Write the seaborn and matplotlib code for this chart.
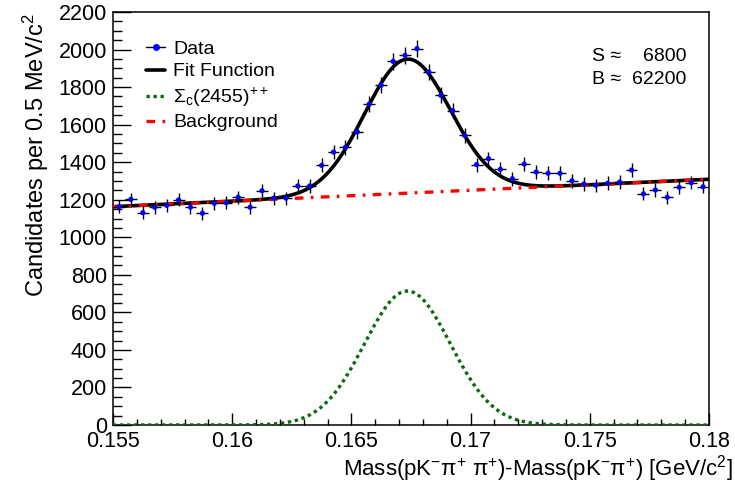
import numpy as np
import pandas as pd
import seaborn as sns
import matplotlib
matplotlib.use("Agg")
from matplotlib import pyplot as plt
from matplotlib.lines import Line2D
from matplotlib.ticker import MultipleLocator, FuncFormatter

# histogram: 50 bins of 0.5 MeV between 0.155 and 0.18 GeV
x_lo, x_hi, n_bins = 0.155, 0.18, 50
counts = [1163, 1202, 1131, 1160, 1170, 1199, 1160, 1128, 1181, 1184,
          1213, 1160, 1248, 1209, 1209, 1273, 1273, 1383, 1454, 1479,
          1561, 1710, 1810, 1937, 1969, 2005, 1880, 1756, 1674, 1543,
          1387, 1419, 1362, 1312, 1390, 1348, 1341, 1341, 1301, 1284,
          1277, 1288, 1294, 1358, 1231, 1252, 1213, 1266, 1291, 1269]

# fit results
sig_mean = 0.16735
sig_sigma = 0.0018
sig_height = 714
bkg_lo = 1163   # background at x_lo
bkg_hi = 1309   # background at x_hi

n_sig, n_bkg = "6800", "62200"

half_bin = (x_hi - x_lo) / n_bins / 2
centres = np.linspace(x_lo + half_bin, x_hi - half_bin, n_bins)
data = pd.DataFrame({"x": centres, "y": counts})
data["err"] = np.sqrt(data["y"])

xf = np.linspace(x_lo, x_hi, 500)
bkg = bkg_lo + (bkg_hi - bkg_lo) * (xf - x_lo) / (x_hi - x_lo)
sig = sig_height * np.exp(-0.5 * ((xf - sig_mean) / sig_sigma) ** 2)
curves = pd.DataFrame({"x": xf, "fit": bkg + sig, "sig": sig, "bkg": bkg})

sns.set_style("ticks")
plt.rcParams["font.family"] = ["Liberation Sans", "DejaVu Sans"]
plt.rcParams["mathtext.fontset"] = "custom"
plt.rcParams["mathtext.rm"] = "Liberation Sans"
plt.rcParams["mathtext.it"] = "Liberation Sans:italic"
plt.rcParams["text.color"] = "black"
plt.rcParams["axes.labelcolor"] = "black"

fig = plt.figure(figsize=(7.35, 4.94), dpi=100)
ax = fig.add_axes([113 / 735, 1 - 425 / 494, 596 / 735, 413 / 494])

green = "#0b6b0b"
sns.lineplot(data=curves, x="x", y="fit", ax=ax, color="black", lw=2.6, zorder=2)
sns.lineplot(data=curves, x="x", y="bkg", ax=ax, color="#ff0000", lw=2.4,
             linestyle=(0, (2.6, 2.2, 0.8, 2.2)), zorder=3)
sns.lineplot(data=curves, x="x", y="sig", ax=ax, color=green, lw=2.4,
             linestyle=(0, (1, 1.1)), zorder=3)
ax.errorbar(data["x"], data["y"], xerr=half_bin, yerr=data["err"], fmt="none",
            ecolor="black", elinewidth=1.0, zorder=4)
sns.scatterplot(data=data, x="x", y="y", ax=ax, color="#0000ff", s=14,
                edgecolor="none", zorder=5)

ax.set_xlim(x_lo, x_hi)
ax.set_ylim(0, 2200)
ax.xaxis.set_major_locator(MultipleLocator(0.005))
ax.xaxis.set_minor_locator(MultipleLocator(0.001))
ax.yaxis.set_major_locator(MultipleLocator(200))
ax.yaxis.set_minor_locator(MultipleLocator(50))
ax.xaxis.set_major_formatter(FuncFormatter(lambda v, p: f"{v:g}"))
ax.yaxis.set_major_formatter(FuncFormatter(lambda v, p: f"{v:g}"))
ax.tick_params(axis="both", which="both", direction="in", top=False, right=False,
               width=1.0, labelsize=15.5, colors="black")
ax.tick_params(axis="x", which="major", length=8.6, pad=4)
ax.tick_params(axis="x", which="minor", length=4.3)
ax.tick_params(axis="y", which="major", length=13, pad=4.5)
ax.tick_params(axis="y", which="minor", length=6.5)
for s in ax.spines.values():
    s.set_visible(True)
    s.set_linewidth(1.1)
    s.set_color("black")

ax.set_xlabel(r"Mass(pK$^{-}$π$^{+}$ π$^{+}$)-Mass(pK$^{-}$π$^{+}$) [GeV/c$^{2}$]",
              fontsize=16)
ax.xaxis.set_label_coords((733 - 113) / 596, (425 - 469) / 413)
ax.xaxis.label.set_ha("right")
ax.xaxis.label.set_va("center")
ax.set_ylabel(r"Candidates per 0.5 MeV/c$^{2}$", fontsize=17)
ax.yaxis.set_label_coords((36 - 113) / 596, (425 - 13) / 413)
ax.yaxis.label.set_ha("right")
ax.yaxis.label.set_va("center")

handles = [
    Line2D([], [], color="black", lw=1.0, marker="o", markersize=4,
           markerfacecolor="#0000ff", markeredgecolor="#0000ff"),
    Line2D([], [], color="black", lw=2.6),
    Line2D([], [], color=green, lw=2.4, linestyle=(0, (1, 1.1))),
    Line2D([], [], color="#ff0000", lw=2.4, linestyle=(0, (2.6, 2.2, 0.8, 2.2))),
]
labels = ["Data", "Fit Function", r"$\Sigma_{\mathrm{c}}$(2455)$^{++}$", "Background"]
ax.legend(handles, labels, loc="upper left", bbox_to_anchor=(0.055, 0.932),
          frameon=False, fontsize=14, handlelength=1.0, handletextpad=0.4,
          labelspacing=0.26, borderpad=0, borderaxespad=0)

def fx(px):
    return (px - 113) / 596

def fy(py):
    return (425 - py) / 413

ax.text(fx(592), fy(56), "S ≈", fontsize=14, ha="left", va="center", transform=ax.transAxes)
ax.text(fx(686), fy(56), n_sig, fontsize=14, ha="right", va="center", transform=ax.transAxes)
ax.text(fx(592), fy(79), "B ≈", fontsize=14, ha="left", va="center", transform=ax.transAxes)
ax.text(fx(686), fy(79), n_bkg, fontsize=14, ha="right", va="center", transform=ax.transAxes)

fig.savefig("out.png", dpi=100)
